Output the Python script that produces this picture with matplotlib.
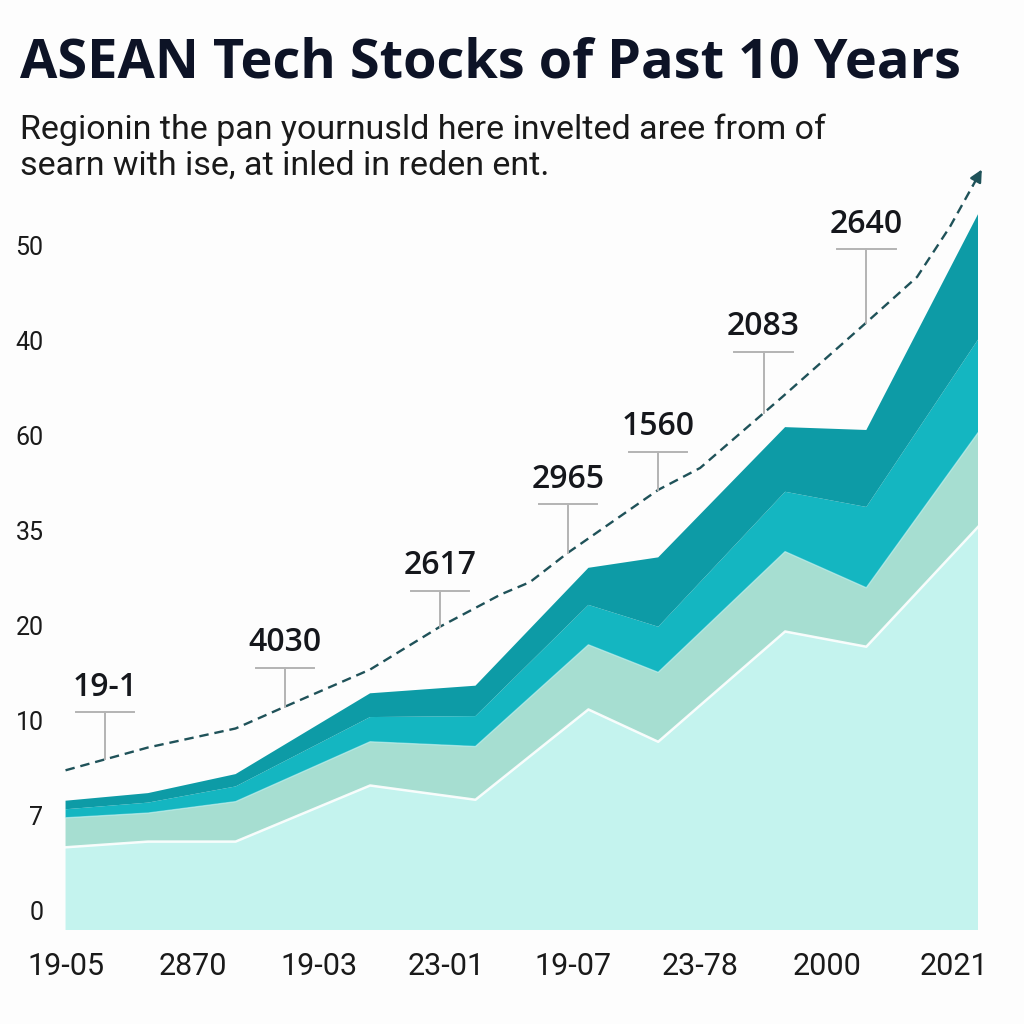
import numpy as np
import matplotlib
matplotlib.use("Agg")
import matplotlib.pyplot as plt

# --- data ---
x_pts = [0.0, 0.65, 1.34, 2.4, 3.23, 4.12, 4.67, 5.67, 6.31, 7.19]
base = [8.7, 9.3, 9.3, 15.2, 13.7, 23.2, 19.8, 31.4, 29.8, 42.4]
mid_green = [3.1, 3.0, 4.2, 4.6, 5.6, 6.8, 7.3, 8.4, 6.2, 9.9]
teal = [0.9, 1.1, 1.6, 2.6, 3.2, 4.2, 4.8, 6.3, 8.5, 9.8]
dark_teal = [0.9, 1.0, 1.3, 2.5, 3.2, 3.9, 7.3, 6.8, 8.1, 13.2]

trend_x = [0.0, 0.65, 1.34, 1.73, 2.4, 2.95, 3.43, 3.66, 3.96, 4.67, 5.0, 5.65, 6.31, 6.71, 6.97, 7.22]
trend_y = [16.8, 19.2, 21.2, 23.5, 27.4, 31.9, 35.3, 36.6, 39.7, 46.3, 48.6, 56.1, 63.9, 68.7, 74.0, 80.0]

ann_labels = ["19-1", "4030", "2617", "2965", "1560", "2083", "2640"]
ann_x = [0.31, 1.73, 2.95, 3.96, 4.67, 5.5, 6.31]
ann_level = [22.9, 27.6, 35.7, 44.8, 50.3, 60.8, 71.6]

x_labels = ["19-05", "2870", "19-03", "23-01", "19-07", "23-78", "2000", "2021"]
y_labels = ["0", "7", "10", "20", "35", "60", "40", "50"]

title = "ASEAN Tech Stocks of Past 10 Years"
subtitle = ["Regionin the pan yournusld here invelted aree from of",
            "searn with ise, at inled in reden ent."]

colors = ["#c4f3ee", "#a6ded1", "#14b6c1", "#0d9ba6"]
bg = "#fdfdfd"

fig = plt.figure(figsize=(10.24, 10.24), dpi=100, facecolor=bg)
ax = fig.add_axes([63 / 1024, 94 / 1024, 915 / 1024, 770 / 1024])
ax.set_facecolor(bg)

ax.stackplot(x_pts, base, mid_green, teal, dark_teal, colors=colors, lw=0)
# white seam on top of the base layer
ax.plot(x_pts, base, color="white", lw=1.8, alpha=0.9)
lvl2 = np.array(base) + np.array(mid_green)
ax.plot(x_pts, lvl2, color="#c8f2ee", lw=1.0, alpha=0.6)

# dashed trend with arrow head
line_col = "#1f5259"
tip = np.array([trend_x[-1], trend_y[-1]])
prev = np.array([trend_x[-2], trend_y[-2]])
tail = prev + 0.72 * (tip - prev)
ax.plot(trend_x[:-1] + [tail[0]], trend_y[:-1] + [tail[1]],
        color=line_col, lw=1.7, ls=(0, (4, 2.5)), clip_on=False)
ax.annotate("", xy=tuple(tip), xytext=tuple(tail), annotation_clip=False,
            arrowprops=dict(arrowstyle="-|>", color=line_col, lw=1.7,
                            mutation_scale=18, shrinkA=0, shrinkB=0))

# callouts
for lab, xa, lv in zip(ann_labels, ann_x, ann_level):
    y0 = np.interp(xa, trend_x, trend_y)
    ax.plot([xa, xa], [y0, lv], color="#b4b4b4", lw=1.4, zorder=3)
    ax.plot([xa - 0.23, xa + 0.23], [lv, lv], color="#b4b4b4", lw=1.4, zorder=3)
    ax.text(xa, lv + 0.9, lab, ha="center", va="bottom", fontsize=23,
            family="Open Sans", fontweight="semibold", color="#15171c")

ax.set_xlim(-0.02, 7.19)
ax.set_ylim(0, 81)
ax.set_xticks(range(len(x_labels)))
ax.set_xticklabels(x_labels, family="Roboto", fontsize=22, color="#1a1a1a")
ax.set_yticks([2 + 10 * i for i in range(len(y_labels))])
ax.set_yticklabels(y_labels, family="Roboto", fontsize=18, color="#1a1a1a")
ax.tick_params(axis="x", length=0, pad=16)
ax.tick_params(axis="y", length=0, pad=14)
for s in ax.spines.values():
    s.set_visible(False)

fig.text(20 / 1024, 1 - 64 / 1024, title, ha="left", va="center", fontsize=39,
         family="Open Sans", fontweight="bold", color="#0d1326")
fig.text(20 / 1024, 1 - 130 / 1024, subtitle[0], ha="left", va="center", fontsize=24.5,
         family="Roboto", color="#1a1a1a")
fig.text(20 / 1024, 1 - 166 / 1024, subtitle[1], ha="left", va="center", fontsize=24.5,
         family="Roboto", color="#1a1a1a")

fig.savefig("out.png", dpi=100, facecolor=bg)
